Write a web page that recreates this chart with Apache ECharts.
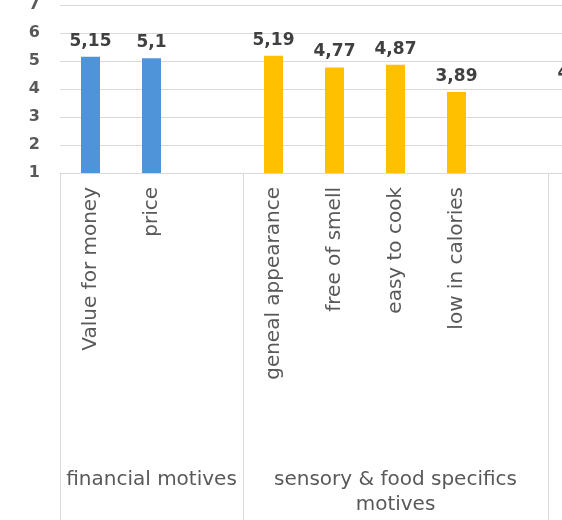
<!DOCTYPE html>
<html>
<head>
<meta charset="utf-8">
<style>
  html, body { margin: 0; padding: 0; background: #ffffff; }
  #chart { width: 562px; height: 520px; }
</style>
<script src="https://cdn.jsdelivr.net/npm/echarts@6/dist/echarts.min.js"></script>
</head>
<body>
<div id="chart"></div>
<script>
// Motive items (empty slots leave space between the groups)
const categories = ['Value for money', 'price', '', 'geneal appearance', 'free of smell', 'easy to cook', 'low in calories', '', ''];
// Mean scores per group, aligned with the categories above
const financialValues = [5.15, 5.1, null, null, null, null, null, null, null];
const sensoryValues   = [null, null, null, 5.19, 4.77, 4.87, 3.89, null, null];
const nextGroupValues = [null, null, null, null, null, null, null, null, 4.01];
// Group captions and how many category slots each one covers
const groupNames = ['financial motives', 'sensory & food specifics\nmotives', ''];
const groupSpans = [3, 5, 1];
const yTicks = [1, 2, 3, 4, 5, 6, 7];

// One caption per group, placed on the middle slot of its span
const groupSlots = [];
const groupStarts = [];
groupNames.forEach((name, g) => {
  groupStarts.push(groupSlots.length);
  const span = groupSpans[g];
  for (let i = 0; i < span; i++) {
    groupSlots.push(i === Math.floor(span / 2) ? name : '');
  }
});

const FONT = "'DejaVu Sans', Verdana, sans-serif";
const labelFmt = p => String(p.value).replace('.', ',');

const dataLabel = {
  show: true,
  position: 'top',
  distance: 7,
  fontFamily: FONT,
  fontSize: 17,
  fontWeight: 'bold',
  color: '#404040',
  formatter: labelFmt
};

const chart = echarts.init(document.getElementById('chart'), null, { renderer: 'canvas' });
chart.setOption({
  animation: false,
  backgroundColor: '#ffffff',
  // the plot runs on past the right edge of the page
  grid: {
    left: 60, top: 5, height: 168, width: 549,
    containLabel: false,
    outerBoundsMode: 'none'
  },
  xAxis: [
    {
      type: 'category',
      data: categories,
      position: 'bottom',
      axisLine: { show: true, lineStyle: { color: '#d9d9d9', width: 1 } },
      axisTick: {
        show: true,
        length: 350,
        interval: (index) => groupStarts.includes(index),
        lineStyle: { color: '#d9d9d9', width: 1 }
      },
      axisLabel: {
        interval: 0,
        rotate: 90,
        margin: 14,
        fontFamily: FONT,
        fontSize: 20,
        color: '#595959'
      },
      splitLine: { show: false }
    },
    {
      type: 'category',
      data: groupSlots,
      position: 'bottom',
      axisLine: { show: false },
      axisTick: { show: false },
      axisLabel: {
        interval: 0,
        margin: 294,
        fontFamily: FONT,
        fontSize: 20,
        lineHeight: 25,
        align: 'center',
        color: '#595959'
      },
      splitLine: { show: false }
    }
  ],
  yAxis: {
    type: 'value',
    min: yTicks[0],
    max: yTicks[yTicks.length - 1],
    interval: 1,
    axisLine: { show: false },
    axisTick: { show: false },
    axisLabel: {
      margin: 20,
      fontFamily: FONT,
      fontSize: 16,
      fontWeight: 'bold',
      color: '#595959'
    },
    splitLine: { show: true, lineStyle: { color: '#d9d9d9', width: 1 } }
  },
  series: [
    {
      name: 'financial motives',
      type: 'bar',
      data: financialValues,
      barWidth: 19,
      barGap: '-100%',
      itemStyle: { color: '#4f94d8' },
      label: dataLabel
    },
    {
      name: 'sensory & food specifics motives',
      type: 'bar',
      data: sensoryValues,
      barWidth: 19,
      barGap: '-100%',
      itemStyle: { color: '#ffc000' },
      label: dataLabel
    },
    {
      name: 'next group',
      type: 'bar',
      data: nextGroupValues,
      barWidth: 19,
      barGap: '-100%',
      itemStyle: { color: '#a5a5a5' },
      label: dataLabel
    }
  ]
});
</script>
</body>
</html>
